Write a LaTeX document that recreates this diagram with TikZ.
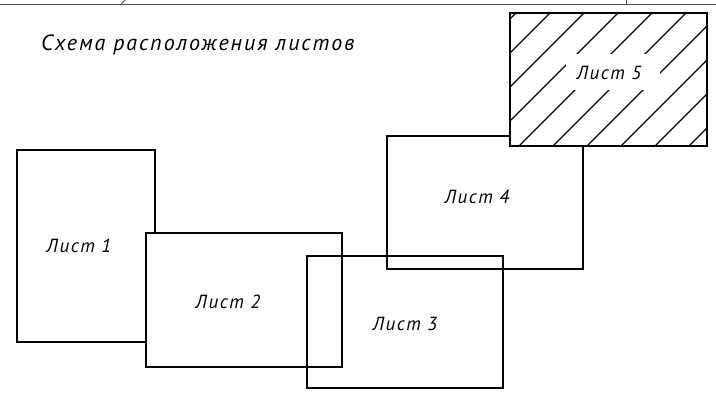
\documentclass[tikz,border=0pt]{standalone}
\usepackage{fontspec}
\newfontfamily\gost[LetterSpace=8]{PT Sans}
\newfontfamily\gostttl[LetterSpace=9]{PT Sans}
\begin{document}
\begin{tikzpicture}[x=1pt,y=-1pt,
  sheet/.style={line width=2.4pt,line join=miter},
  framebit/.style={line width=0.9pt,draw=black!70},
  hatchline/.style={line width=1.3pt},
  lbl/.style={font=\gost\itshape\fontsize{19}{22}\selectfont,inner sep=0pt},
  ttl/.style={font=\gostttl\itshape\fontsize{22}{26}\selectfont,inner sep=0pt,anchor=west}]
\useasboundingbox (0,0) rectangle (716,405);
% remnants of the frame at the top
\draw[framebit] (0,4) -- (716,4);
\draw[framebit] (121,4.5) -- (125,0);
\draw[framebit] (626,0) -- (626,4);
% title
\node[ttl] (title) at (41,45) {Схема расположения листов};
% sheets
\draw[sheet] (17,150) rectangle (155,342);
\draw[sheet,fill=white] (146,233) rectangle (342,367);
\draw[sheet] (307,256) rectangle (503,388);
\draw[sheet] (387,136) rectangle (583,269);
\draw[sheet,fill=white] (510,13) rectangle (707,146);
\begin{scope}
  \clip (510,13) rectangle (707,146);
  \foreach \c in {529,563,...,835}
    \draw[hatchline] (\c-13,13) -- (\c-146,146);
\end{scope}
\fill[white] (566,54) rectangle (660,90);
\draw[sheet] (510,13) rectangle (707,146);
% labels
\node[lbl] (l1) at (79,246) {Лист 1};
\node[lbl] (l2) at (228,302) {Лист 2};
\node[lbl] (l3) at (405,324) {Лист 3};
\node[lbl] (l4) at (477,197) {Лист 4};
\node[lbl] (l5) at (609,73) {Лист 5};
\end{tikzpicture}
\end{document}
